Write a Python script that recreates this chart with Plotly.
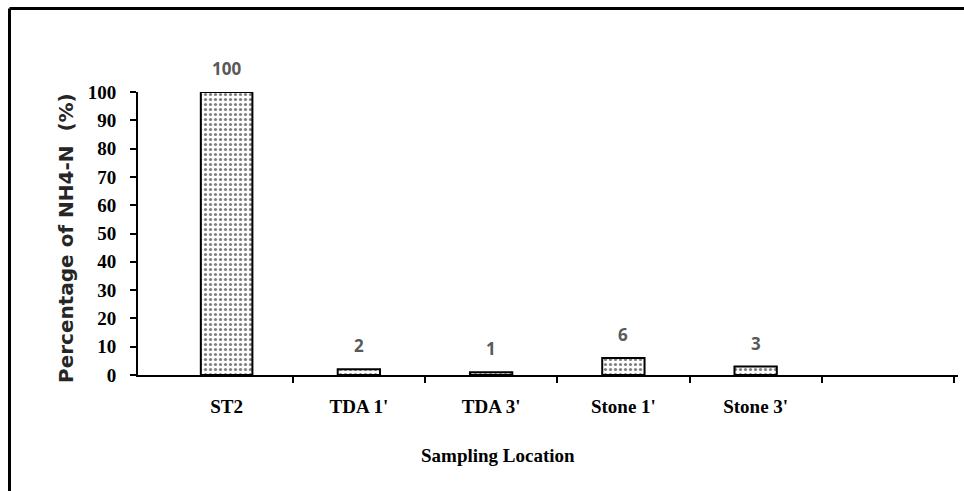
import plotly.graph_objects as go

# Share of NH4-N by sampling location
locations = ["ST2", "TDA 1'", "TDA 3'", "Stone 1'", "Stone 3'"]
nh4_pct = [100, 2, 1, 6, 3]
y_ticks = [0, 10, 20, 30, 40, 50, 60, 70, 80, 90, 100]

serif_bold = dict(family="Liberation Serif", size=19, color="black", weight="bold")
label_font = dict(family="Open Sans", size=17, color="#595959", weight="bold")

x_range = [-0.67, 5.53]

# Plot-area geometry in pixels, used to place the free-standing texts
W, H = 964, 491
L, R, T, B = 138, 6, 92, 116
pw, ph = W - L - R, H - T - B


def px_to_paper(px, py):
    return (px - L) / pw, 1 - (py - T) / ph


fig = go.Figure()
fig.add_trace(
    go.Bar(
        x=locations,
        y=nh4_pct,
        width=[0.39, 0.32, 0.32, 0.32, 0.32],
        cliponaxis=False,
        marker=dict(
            color="white",
            line=dict(color="black", width=2),
            pattern=dict(shape=".", fgcolor="black", bgcolor="white",
                         size=5, solidity=0.32),
        ),
    )
)
# Empty trace so the linear companion axis (boundary ticks) is drawn
fig.add_trace(go.Scatter(x=[], y=[], xaxis="x2", yaxis="y", showlegend=False,
                         hoverinfo="skip"))

# Value labels above each bar
for loc, v in zip(locations, nh4_pct):
    fig.add_annotation(x=loc, y=v, text=str(v), showarrow=False,
                       yanchor="bottom", yshift=10, font=label_font)

fig.update_layout(
    width=W,
    height=H,
    margin=dict(l=L, r=R, t=T, b=B),
    paper_bgcolor="white",
    plot_bgcolor="white",
    showlegend=False,
    xaxis2=dict(
        overlaying="x",
        anchor="y",
        side="bottom",
        range=x_range,
        tickvals=[i + 0.5 for i in range(len(locations) + 1)],
        showticklabels=False,
        ticks="outside",
        ticklen=7,
        tickwidth=2,
        tickcolor="black",
        showgrid=False,
        zeroline=False,
        showline=False,
    ),
)

fig.layout.xaxis.update(
    type="category",
    range=x_range,
    showline=True,
    linecolor="black",
    linewidth=2,
    ticks="",
    tickfont=serif_bold,
    ticklabelstandoff=13,
    showgrid=False,
    zeroline=False,
)

fig.update_yaxes(
    range=[0, 100],
    tickvals=y_ticks,
    showline=True,
    linecolor="black",
    linewidth=2,
    ticks="outside",
    ticklen=6,
    tickwidth=2,
    tickcolor="black",
    tickfont=serif_bold,
    ticklabelstandoff=10,
    showgrid=False,
    zeroline=False,
)

# Y axis title
tx, ty = px_to_paper(66, 238)
fig.add_annotation(
    text="Percentage of NH4-N  (%)",
    xref="paper", yref="paper", x=tx, y=ty,
    xanchor="center", yanchor="middle", textangle=-90,
    showarrow=False,
    font=dict(family="DejaVu Sans", size=20, color="#262626", weight="bold"),
)

# X axis title below the category labels
tx, ty = px_to_paper(498, 455)
fig.add_annotation(
    text="Sampling Location",
    xref="paper", yref="paper", x=tx, y=ty,
    xanchor="center", yanchor="middle",
    showarrow=False,
    font=dict(family="Liberation Serif", size=19, color="black", weight="bold"),
)

# Outer frame lines along the top and left edges
x_left, y_top = px_to_paper(9.5, 8.5)
x_right, y_bottom = px_to_paper(W + 5, H + 5)
fig.add_shape(type="line", xref="paper", yref="paper",
              x0=x_left, x1=x_right, y0=y_top, y1=y_top,
              line=dict(color="black", width=3))
fig.add_shape(type="line", xref="paper", yref="paper",
              x0=x_left, x1=x_left, y0=y_bottom, y1=y_top,
              line=dict(color="black", width=3))

fig.write_html("out.html")
